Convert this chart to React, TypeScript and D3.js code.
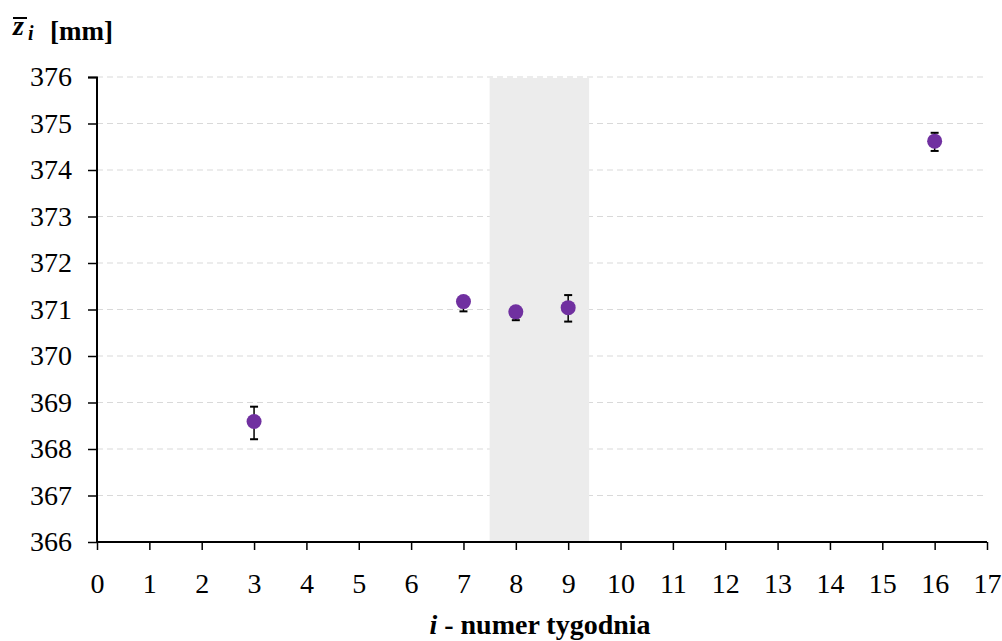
import React, {useEffect, useRef} from 'react';
import * as d3 from 'd3';

const weeks = [3, 7, 8, 9, 16];
const means = [368.59, 371.17, 370.95, 371.04, 374.62];
const errPlus = [0.32, 0.1, 0.1, 0.27, 0.18];
const errMinus = [0.38, 0.21, 0.18, 0.3, 0.21];
const shadedWeeks = [7.5, 9.4];
const xTicks = d3.range(0, 18);
const yTicks = d3.range(366, 377);

export default function App() {
    const svgRef = useRef<SVGSVGElement>(null);

    useEffect(() => {
        const W = 1002, H = 641;
        const margin = {top: 77, right: 15, bottom: 99, left: 97};
        const width = W - margin.left - margin.right;
        const height = H - margin.top - margin.bottom;
        const font = '"Liberation Serif", "Times New Roman", serif';

        d3.select(svgRef.current).selectAll('*').remove();
        const root = d3.select(svgRef.current)
            .attr('width', W)
            .attr('height', H)
            .style('background', '#fff');

        const svg = root.append('g')
            .attr('transform', `translate(${margin.left},${margin.top})`);

        const x = d3.scaleLinear().domain([0, 17]).range([0, width]);
        const y = d3.scaleLinear().domain([366, 376]).range([height, 0]);

        // dashed grid
        svg.append('g')
            .selectAll('line')
            .data(yTicks.filter(t => t > 366))
            .enter()
            .append('line')
            .attr('x1', 0)
            .attr('x2', width)
            .attr('y1', d => y(d))
            .attr('y2', d => y(d))
            .attr('stroke', '#d9d9d9')
            .attr('stroke-width', 1.2)
            .attr('stroke-dasharray', '6,4');

        // shaded weeks
        svg.append('rect')
            .attr('x', x(shadedWeeks[0]))
            .attr('y', y(376) + 1)
            .attr('width', x(shadedWeeks[1]) - x(shadedWeeks[0]))
            .attr('height', y(366) - y(376) - 1)
            .attr('fill', '#ececec');

        // axes
        const yAxis = svg.append('g')
            .call(d3.axisLeft(y).tickValues(yTicks).tickSize(9).tickPadding(16).tickFormat(d3.format('d')));
        const xAxis = svg.append('g')
            .attr('transform', `translate(0,${height})`)
            .call(d3.axisBottom(x).tickValues(xTicks).tickSize(8).tickPadding(23).tickFormat(d3.format('d')));

        [yAxis, xAxis].forEach(ax => {
            ax.select('.domain').attr('stroke', '#000').attr('stroke-width', 2);
            ax.selectAll('.tick line').attr('stroke', '#000').attr('stroke-width', 1.5);
            ax.selectAll('.tick text')
                .attr('fill', '#000')
                .attr('font-family', font)
                .attr('font-size', '28px');
        });
        yAxis.select('.domain').attr('d', `M-9,0.5H0V${height}`);
        xAxis.select('.domain').attr('d', `M0,0H${width}`);

        // error bars
        const data = weeks.map((w, i) => ({w, m: means[i], hi: means[i] + errPlus[i], lo: means[i] - errMinus[i]}));
        const eb = svg.append('g').selectAll('g').data(data).enter().append('g');
        eb.append('line')
            .attr('x1', d => x(d.w)).attr('x2', d => x(d.w))
            .attr('y1', d => y(d.hi)).attr('y2', d => y(d.lo))
            .attr('stroke', '#000').attr('stroke-width', 1.5);
        ['hi', 'lo'].forEach(k => {
            eb.append('line')
                .attr('x1', d => x(d.w) - 4).attr('x2', d => x(d.w) + 4)
                .attr('y1', d => y(d[k])).attr('y2', d => y(d[k]))
                .attr('stroke', '#000').attr('stroke-width', 2);
        });

        // points
        svg.append('g').selectAll('circle')
            .data(data)
            .enter()
            .append('circle')
            .attr('cx', d => x(d.w))
            .attr('cy', d => y(d.m))
            .attr('r', 7.5)
            .attr('fill', '#7030a0');

        // axis titles
        const xt = root.append('text')
            .attr('x', 540)
            .attr('y', 634)
            .attr('text-anchor', 'middle')
            .attr('font-family', font)
            .attr('font-size', '28px')
            .attr('font-weight', 'bold')
            .attr('fill', '#000');
        xt.append('tspan').attr('font-style', 'italic').text('i');
        xt.append('tspan').text(' - numer tygodnia');

        const yt = root.append('text')
            .attr('font-family', font)
            .attr('fill', '#000');
        yt.append('tspan').attr('x', 13).attr('y', 35)
            .attr('font-size', '28px').attr('font-weight', 'bold').attr('font-style', 'italic').text('z');
        yt.append('tspan').attr('x', 28).attr('y', 40)
            .attr('font-size', '20px').attr('font-style', 'italic').attr('font-weight', 'bold').text('i');
        yt.append('tspan').attr('x', 50).attr('y', 40)
            .attr('font-size', '27px').attr('font-weight', 'bold').text('[mm]');
        root.append('line')
            .attr('x1', 13).attr('x2', 27)
            .attr('y1', 18).attr('y2', 18)
            .attr('stroke', '#000').attr('stroke-width', 2);
    }, []);

    return (
        <div style={{position: 'absolute', left: 0, top: 0}}>
            <svg ref={svgRef} style={{display: 'block'}}></svg>
        </div>
    );
}
